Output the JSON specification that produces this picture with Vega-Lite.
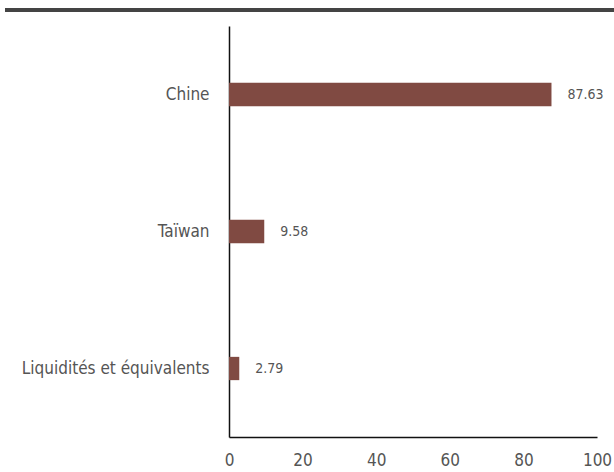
{
  "$schema": "https://vega.github.io/schema/vega-lite/v6.json",
  "width": 368,
  "height": 411,
  "padding": {"left": 3, "top": 8, "right": 0, "bottom": 0},
  "config": {
    "view": {"stroke": null},
    "font": "DejaVu Sans Condensed"
  },
  "data": {
    "values": [
      {"categorie": "Chine", "valeur": 87.63},
      {"categorie": "Taïwan", "valeur": 9.58},
      {"categorie": "Liquidités et équivalents", "valeur": 2.79}
    ]
  },
  "layer": [
    {
      "mark": {"type": "rule", "color": "#444444", "strokeWidth": 4, "clip": false},
      "encoding": {
        "x": {"value": -224},
        "x2": {"value": 385},
        "y": {"value": -16}
      }
    },
    {
      "mark": {"type": "bar", "color": "#804A42"},
      "encoding": {
        "y": {
          "field": "categorie",
          "type": "nominal",
          "sort": null,
          "scale": {"paddingInner": 0.83, "paddingOuter": 0.415},
          "axis": {
            "title": null,
            "ticks": false,
            "labelPadding": 20,
            "labelFontSize": 17,
            "labelLimit": 300,
            "labelColor": "#555555",
            "labelFont": "DejaVu Sans Condensed",
            "domainColor": "#111111",
            "domainWidth": 1.5
          }
        },
        "x": {
          "field": "valeur",
          "type": "quantitative",
          "scale": {"domain": [0, 100], "nice": false},
          "axis": {
            "title": null,
            "ticks": false,
            "grid": false,
            "values": [0, 20, 40, 60, 80, 100],
            "labelPadding": 15,
            "labelFontSize": 17,
            "labelColor": "#555555",
            "labelFont": "DejaVu Sans Condensed",
            "labelFlush": false,
            "domainColor": "#111111",
            "domainWidth": 1.5
          }
        }
      }
    },
    {
      "mark": {"type": "text", "align": "left", "baseline": "middle", "dx": 16, "fontSize": 14, "color": "#555555", "font": "DejaVu Sans Condensed"},
      "encoding": {
        "y": {"field": "categorie", "type": "nominal", "sort": null},
        "x": {"field": "valeur", "type": "quantitative"},
        "text": {"field": "valeur", "type": "quantitative", "format": ".2f"}
      }
    }
  ]
}
